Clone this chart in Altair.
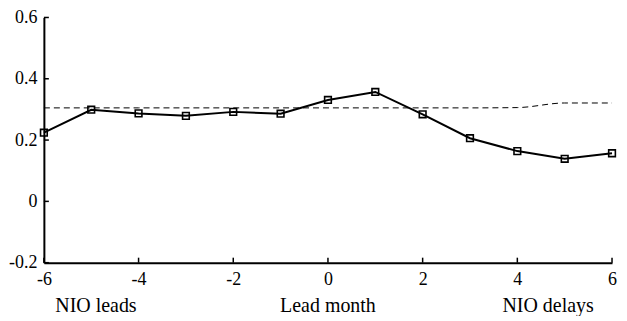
import altair as alt
import pandas as pd

lead = [-6, -5, -4, -3, -2, -1, 0, 1, 2, 3, 4, 5, 6]
corr = [0.224, 0.299, 0.287, 0.279, 0.292, 0.286, 0.331, 0.357, 0.284, 0.206, 0.164, 0.139, 0.157]
signif = [0.305, 0.305, 0.305, 0.305, 0.305, 0.305, 0.305, 0.305, 0.305, 0.305, 0.306, 0.321, 0.321]

x_ticks = [-6, -4, -2, 0, 2, 4, 6]
y_ticks = [-0.2, 0, 0.2, 0.4, 0.6]

bottom_labels = ["NIO leads", "Lead month", "NIO delays"]
bottom_pos = [-4.9, 0, 4.65]

W, H = 570, 246
FONT = "Liberation Serif"

df = pd.DataFrame({"lead": lead, "corr": corr, "sig": signif})
xt = pd.DataFrame({"v": x_ticks})
yt = pd.DataFrame({"v": y_ticks})
bl = pd.DataFrame({"label": bottom_labels, "pos": bottom_pos})

xscale = alt.Scale(domain=[-6, 6], nice=False, zero=False)
yscale = alt.Scale(domain=[-0.2, 0.6], nice=False, zero=False)

minus_expr = "datum.value < 0 ? '-' + format(-datum.value, '~g') : format(datum.value, '~g')"

xaxis = alt.Axis(values=x_ticks, ticks=False, grid=False, title=None,
                 labelExpr=minus_expr, labelFont=FONT, labelFontSize=18,
                 labelColor="black", labelPadding=8, domainColor="black",
                 domainWidth=2, labelFlush=False)
yaxis = alt.Axis(values=y_ticks, ticks=False, grid=False, title=None,
                 labelExpr=minus_expr, labelFont=FONT, labelFontSize=18,
                 labelColor="black", labelPadding=7, domainColor="black",
                 domainWidth=2, labelFlush=False)

base = alt.Chart(df)

sig_line = base.mark_line(color="black", strokeWidth=1, strokeDash=[6, 4],
                          interpolate="monotone").encode(
    x=alt.X("lead:Q", scale=xscale, axis=xaxis),
    y=alt.Y("sig:Q", scale=yscale, axis=yaxis),
)

corr_line = base.mark_line(color="black", strokeWidth=2).encode(
    x=alt.X("lead:Q", scale=xscale),
    y=alt.Y("corr:Q", scale=yscale),
)

corr_pts = base.mark_point(shape="square", filled=False, color="black",
                           size=45, strokeWidth=1.6, opacity=1).encode(
    x=alt.X("lead:Q", scale=xscale),
    y=alt.Y("corr:Q", scale=yscale),
)

xtick_rules = alt.Chart(xt).mark_rule(color="black", strokeWidth=1.5).encode(
    x=alt.X("v:Q", scale=xscale),
    y=alt.value(H),
    y2=alt.value(H - 5),
)

ytick_rules = alt.Chart(yt).mark_rule(color="black", strokeWidth=1.5).encode(
    y=alt.Y("v:Q", scale=yscale),
    x=alt.value(0),
    x2=alt.value(5),
)

labels = alt.Chart(bl).mark_text(font=FONT, fontSize=20, align="center").encode(
    x=alt.X("pos:Q", scale=xscale),
    y=alt.value(H + 43),
    text=alt.Text("label:N"),
)

chart = alt.layer(sig_line, corr_line, corr_pts, xtick_rules, ytick_rules, labels).properties(
    width=W, height=H,
    padding=0,
    view=alt.ViewBackground(stroke=None),
)

chart.save("out.html", embed_options={"renderer": "svg", "actions": False})
